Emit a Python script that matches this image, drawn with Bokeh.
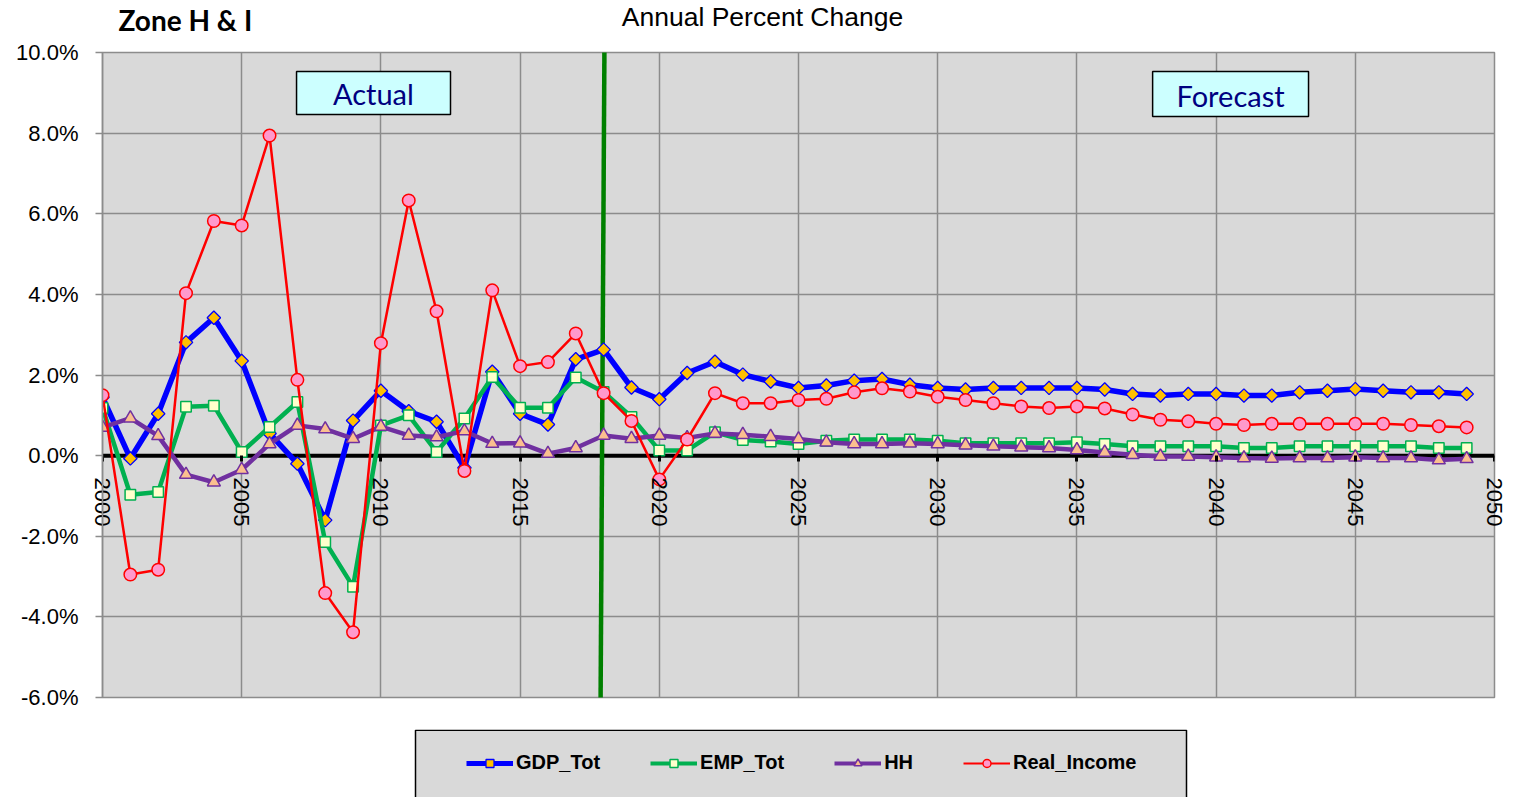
import numpy as np
from bokeh.plotting import figure
from bokeh.layouts import column
from bokeh.models import (ColumnDataSource, FixedTicker, PrintfTickFormatter, Legend, LegendItem,
                          Span, Range1d, LinearAxis, CustomJSTickFormatter)
from bokeh.core.properties import value
from bokeh.embed import file_html
from bokeh.resources import INLINE

years = list(range(2000, 2050))

gdp_tot = [1.45, -0.07, 1.04, 2.81, 3.42, 2.35, 0.55, -0.20, -1.60, 0.87,
           1.61, 1.10, 0.84, -0.30, 2.08, 1.04, 0.77, 2.39, 2.63, 1.69,
           1.40, 2.05, 2.33, 2.01, 1.84, 1.68, 1.74, 1.86, 1.90, 1.76,
           1.68, 1.64, 1.68, 1.68, 1.68, 1.68, 1.64, 1.53, 1.49, 1.53,
           1.53, 1.49, 1.49, 1.57, 1.61, 1.65, 1.61, 1.57, 1.57, 1.53]

emp_tot = [1.18, -0.97, -0.90, 1.21, 1.24, 0.09, 0.71, 1.33, -2.14, -3.25,
           0.75, 1.00, 0.09, 0.92, 1.95, 1.19, 1.19, 1.94, 1.58, 0.96,
           0.13, 0.13, 0.58, 0.39, 0.35, 0.29, 0.37, 0.40, 0.40, 0.40,
           0.37, 0.31, 0.31, 0.31, 0.31, 0.33, 0.29, 0.23, 0.23, 0.23,
           0.23, 0.19, 0.19, 0.23, 0.23, 0.23, 0.23, 0.23, 0.19, 0.19]

hh = [0.70, 0.93, 0.49, -0.47, -0.66, -0.35, 0.29, 0.75, 0.66, 0.42,
      0.72, 0.50, 0.46, 0.61, 0.30, 0.31, 0.05, 0.19, 0.50, 0.42,
      0.50, 0.44, 0.55, 0.52, 0.47, 0.41, 0.33, 0.29, 0.29, 0.31,
      0.29, 0.26, 0.23, 0.21, 0.19, 0.14, 0.08, 0.02, -0.02, -0.02,
      -0.04, -0.06, -0.07, -0.06, -0.06, -0.04, -0.06, -0.06, -0.11, -0.08]

real_income = [1.50, -2.95, -2.83, 4.03, 5.82, 5.71, 7.94, 1.88, -3.41, -4.38,
               2.79, 6.33, 3.58, -0.38, 4.10, 2.22, 2.32, 3.03, 1.55, 0.86,
               -0.59, 0.40, 1.55, 1.30, 1.30, 1.38, 1.41, 1.57, 1.67, 1.59,
               1.46, 1.38, 1.30, 1.22, 1.18, 1.22, 1.17, 1.02, 0.89, 0.85,
               0.79, 0.76, 0.79, 0.79, 0.79, 0.79, 0.79, 0.76, 0.73, 0.70]

series_names = ["GDP_Tot", "EMP_Tot", "HH", "Real_Income"]
x_ticks = list(range(2000, 2051, 5))
y_ticks = list(range(-6, 11, 2))
forecast_start = 2018
title_text = "Zone H & I"
subtitle_text = "Annual Percent Change"
period_labels = ["Actual", "Forecast"]

GRID = "#8c8c8c"
W = 1507
FRAME_L, FRAME_R = 102, 1494   # frames of the stacked figures are aligned by the column

# ---------- header (titles) ----------
head = figure(width=W, height=38, output_backend="svg", toolbar_location=None,
              x_range=Range1d(FRAME_L, FRAME_R), y_range=Range1d(38, 0),
              x_axis_type=None, y_axis_type=None, min_border=0)
head.title = None
head.outline_line_color = None
head.grid.visible = False
head.text(x=[118], y=[19], text=[title_text], text_font=value("Lato"), text_font_style="bold",
          text_font_size=value("28px"), text_color="black", text_align="left", text_baseline="middle")
head.text(x=[762], y=[16], text=[subtitle_text], text_font=value("Liberation Sans"),
          text_font_size=value("26.5px"), text_color="black", text_align="center", text_baseline="middle")

# ---------- main chart ----------
p = figure(width=W, height=691, output_backend="svg", toolbar_location=None,
           x_range=Range1d(2000, 2050), y_range=Range1d(-6, 10),
           min_border_left=FRAME_L, min_border_right=W - FRAME_R, min_border_top=14, min_border_bottom=32)
p.title = None
p.background_fill_color = "#d9d9d9"
p.border_fill_color = "white"
p.outline_line_color = GRID
p.outline_line_width = 1.5

p.xgrid.ticker = FixedTicker(ticks=x_ticks)
p.ygrid.ticker = FixedTicker(ticks=y_ticks)
p.grid.grid_line_color = GRID
p.grid.grid_line_width = 1.5

# year labels: drawn by the bottom axis, pulled up just under the zero line
p.xaxis.ticker = FixedTicker(ticks=x_ticks)
p.xaxis.axis_line_color = None
p.xaxis.major_tick_line_color = None
p.xaxis.minor_tick_line_color = None
p.xaxis.major_tick_out = 0
p.xaxis.major_tick_in = 0
p.xaxis.major_label_orientation = "vertical"
p.xaxis.major_label_standoff = -220
p.xaxis.major_label_text_font = "Liberation Sans"
p.xaxis.major_label_text_font_size = "22px"
p.xaxis.major_label_text_color = "black"

# tick marks on the zero line
zero_axis = LinearAxis(fixed_location=0, ticker=FixedTicker(ticks=x_ticks),
                       formatter=CustomJSTickFormatter(code="return ''"),
                       axis_line_color=None, major_tick_line_color="black", major_tick_line_width=3,
                       major_tick_out=6, major_tick_in=0, minor_tick_line_color=None,
                       major_label_text_font_size="1px")
p.add_layout(zero_axis, "below")

p.yaxis.ticker = FixedTicker(ticks=y_ticks)
p.yaxis.formatter = PrintfTickFormatter(format="%.1f%%")
p.yaxis.axis_line_color = GRID
p.yaxis.axis_line_width = 1.5
p.yaxis.major_tick_line_color = GRID
p.yaxis.major_tick_line_width = 1.5
p.yaxis.major_tick_out = 7
p.yaxis.major_tick_in = 0
p.yaxis.minor_tick_line_color = None
p.yaxis.major_label_standoff = 17
p.yaxis.major_label_text_font = "Liberation Sans"
p.yaxis.major_label_text_font_size = "22px"
p.yaxis.major_label_text_color = "black"

p.add_layout(Span(location=0, dimension="width", line_color="black", line_width=4, level="underlay"))

# Actual / Forecast divider
p.segment(x0=[forecast_start + 0.03], y0=[10.2], x1=[forecast_start - 0.11], y1=[-6.2],
          line_color="#008000", line_width=4.5)

# Actual / Forecast boxes
p.quad(left=[2006.97, 2037.72], right=[2012.5, 2043.32], top=[9.53, 9.53], bottom=[8.46, 8.41],
       fill_color="#ccffff", line_color="black", line_width=1.5)
p.text(x=[2009.73, 2040.52], y=[8.99, 8.93], text=period_labels,
       text_font=value("Lato"), text_font_size=value("29px"), text_color="#000080",
       text_align="center", text_baseline="middle")

src = ColumnDataSource(dict(year=years, gdp=gdp_tot, emp=emp_tot, hh=hh, inc=real_income))

styles = [
    dict(col="gdp", lc="#0000ff", lw=5.5, marker="square", angle=np.pi / 4, size=9.5, fc="#ffc000", mlw=1.3),
    dict(col="emp", lc="#00b050", lw=4.5, marker="square", angle=0.0, size=10.5, fc="#ffffcc", mlw=1.5),
    dict(col="hh", lc="#7030a0", lw=4.5, marker="triangle", angle=0.0, size=13, fc="#fabf8f", mlw=1.5),
    dict(col="inc", lc="#ff0000", lw=2.5, marker="circle", angle=0.0, size=12.5, fc="#ff99cc", mlw=1.5),
]
for s in styles:
    p.line("year", s["col"], source=src, line_color=s["lc"], line_width=s["lw"])
    p.scatter("year", s["col"], source=src, marker=s["marker"], angle=s["angle"], size=s["size"],
              fill_color=s["fc"], line_color=s["lc"], line_width=s["mlw"])

# ---------- legend panel ----------
leg = figure(width=W, height=68, output_backend="svg", toolbar_location=None,
             x_range=Range1d(FRAME_L, FRAME_R), y_range=Range1d(68, 0),
             x_axis_type=None, y_axis_type=None, min_border=0)
leg.title = None
leg.outline_line_color = None
leg.grid.visible = False
leg.quad(left=[415], right=[1186], top=[0.8], bottom=[90], fill_color="#d9d9d9",
         line_color="black", line_width=1.5)
items = []
for name, s in zip(series_names, styles):
    r1 = leg.line(x=[np.nan], y=[np.nan], line_color=s["lc"], line_width=s["lw"] - 0.5)
    r2 = leg.scatter(x=[np.nan], y=[np.nan], marker=s["marker"], angle=s["angle"], size=s["size"] - 1,
                     fill_color=s["fc"], line_color=s["lc"], line_width=s["mlw"])
    items.append(LegendItem(label=name, renderers=[r1, r2]))
legend = Legend(items=items, orientation="horizontal", location=(466 - FRAME_L, 23), padding=0, margin=0,
                spacing=50, glyph_width=47, glyph_height=20, label_standoff=3,
                label_text_font="Liberation Sans", label_text_font_style="bold",
                label_text_font_size="20px", label_text_color="black",
                background_fill_alpha=0, border_line_alpha=0)
leg.add_layout(legend, "center")

layout = column(head, p, leg, spacing=0)
open("out.html", "w").write(file_html(layout, INLINE))
